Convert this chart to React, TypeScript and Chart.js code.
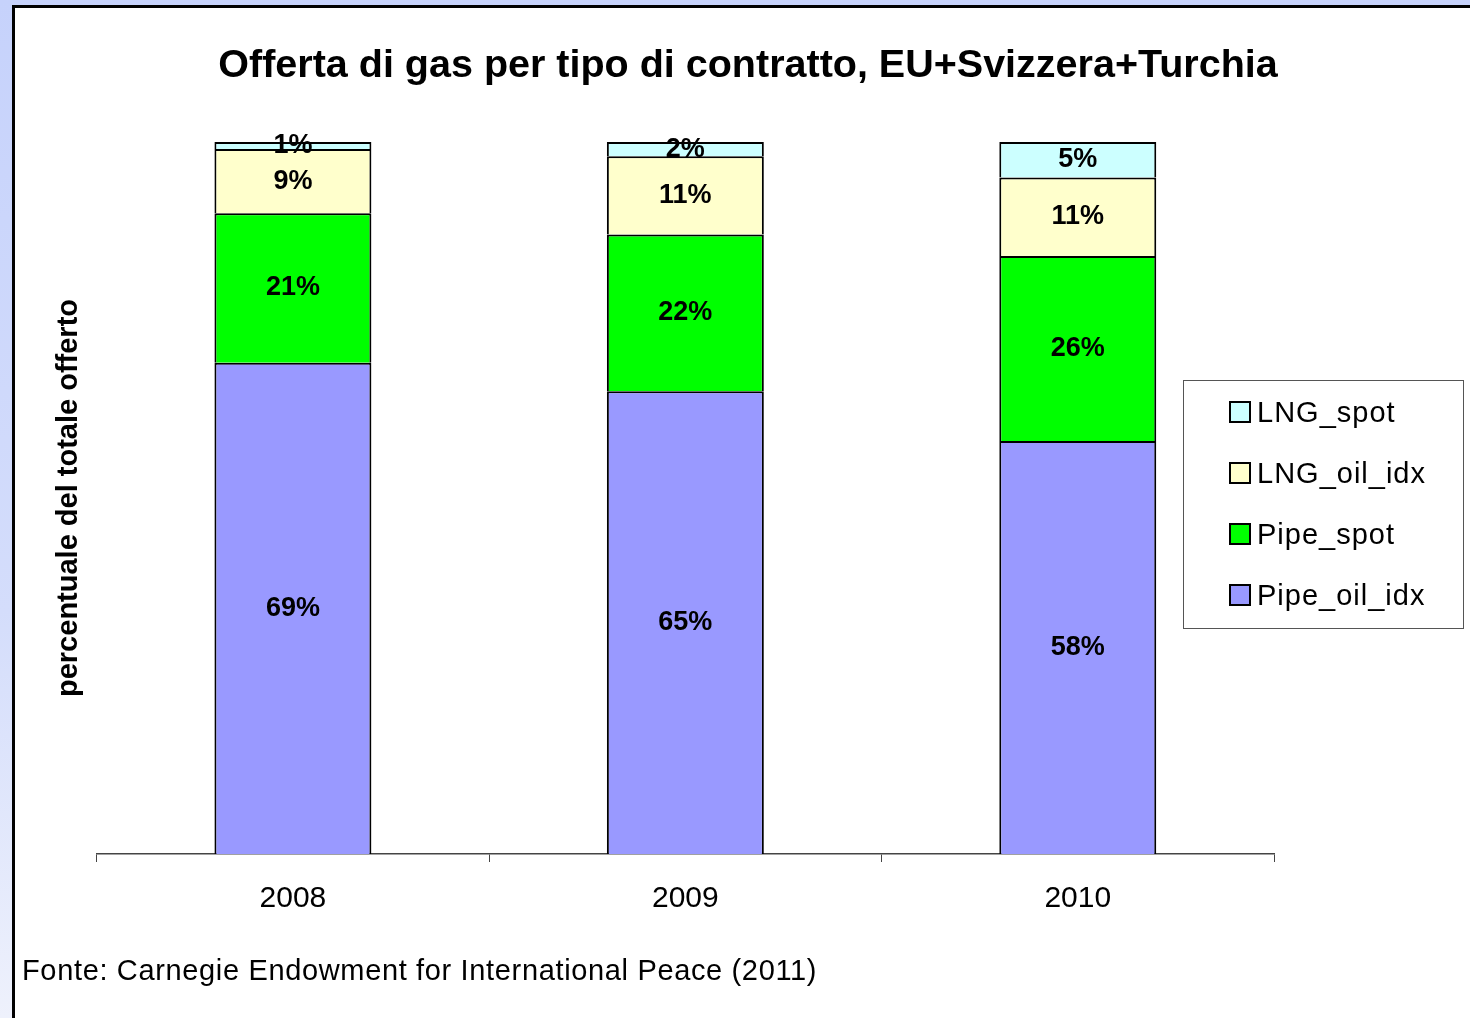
import React, { useEffect, useRef } from "react";
import { Chart, registerables } from "chart.js";

Chart.register(...registerables);

const categories = ["2008", "2009", "2010"];
const seriesNames = ["Pipe_oil_idx", "Pipe_spot", "LNG_oil_idx", "LNG_spot"];
const pipeOilIdx = [69, 65, 58];
const pipeSpot = [21, 22, 26];
const lngOilIdx = [9, 11, 11];
const lngSpot = [1, 2, 5];
const seriesColors = ["#9999ff", "#00ff00", "#ffffcc", "#ccffff"];

const titleText = "Offerta di gas per tipo di contratto, EU+Svizzera+Turchia";
const yTitleText = "percentuale del totale offerto";
const footerText = "Fonte: Carnegie Endowment for International Peace (2011)";

const FONT = "'Liberation Sans', Arial, Helvetica, sans-serif";

const dataLabelPlugin = {
  id: "segLabels",
  afterDatasetsDraw(chart: any) {
    const ctx = chart.ctx;
    ctx.save();
    ctx.font = `bold 27px ${FONT}`;
    ctx.fillStyle = "#000";
    ctx.textAlign = "center";
    ctx.textBaseline = "middle";
    chart.data.datasets.forEach((ds: any, di: number) => {
      const meta = chart.getDatasetMeta(di);
      meta.data.forEach((bar: any, i: number) => {
        const v = ds.data[i];
        const y = (bar.y + bar.base) / 2;
        ctx.fillText(`${v}%`, bar.x, y);
      });
    });
    ctx.restore();
  },
};

const boxLegendPlugin = {
  id: "boxLegend",
  afterDraw(chart: any) {
    const ctx = chart.ctx;
    const left = 1183;
    const top = 380;
    const w = 280;
    const h = 248;
    ctx.save();
    ctx.fillStyle = "#fff";
    ctx.fillRect(left, top, w, h);
    ctx.strokeStyle = "#555";
    ctx.lineWidth = 1;
    ctx.strokeRect(left + 0.5, top + 0.5, w, h);
    const items = chart.data.datasets.map((d: any) => d).reverse();
    ctx.font = `29px ${FONT}`;
    try { (ctx as any).letterSpacing = "1px"; } catch (e) {}
    ctx.textAlign = "left";
    ctx.textBaseline = "alphabetic";
    items.forEach((ds: any, i: number) => {
      const cy = top + 32 + i * 61;
      ctx.fillStyle = ds.backgroundColor;
      ctx.fillRect(left + 47, cy - 10, 20, 20);
      ctx.strokeStyle = "#000";
      ctx.lineWidth = 2;
      ctx.strokeRect(left + 47, cy - 10, 20, 20);
      ctx.fillStyle = "#000";
      ctx.fillText(ds.label, left + 74, cy + 10);
    });
    ctx.restore();
  },
};

export default function App() {
  const ref = useRef<HTMLCanvasElement>(null);
  useEffect(() => {
    if (!ref.current) return;
    const values = [pipeOilIdx, pipeSpot, lngOilIdx, lngSpot];
    const chart = new Chart(ref.current, {
      type: "bar",
      data: {
        labels: categories,
        datasets: seriesNames.map((name, i) => ({
          label: name,
          data: values[i],
          backgroundColor: seriesColors[i],
          borderColor: "#000",
          borderWidth: 2,
          categoryPercentage: 1,
          barPercentage: 0.4,
        })),
      },
      options: {
        responsive: false,
        animation: false,
        events: [],
        layout: { padding: { left: 47.9, right: 196, top: 142, bottom: 82 } },
        plugins: {
          legend: { display: false },
          tooltip: { enabled: false },
          title: { display: false },
        },
        scales: {
          x: {
            stacked: true,
            grid: {
              display: true,
              drawOnChartArea: false,
              drawTicks: true,
              tickLength: 8,
              color: "#444",
              lineWidth: 1,
            },
            border: { display: true, color: "#444", width: 1.5 },
            ticks: {
              color: "#000",
              font: { family: FONT, size: 30 },
              padding: 19,
            },
          },
          y: {
            stacked: true,
            min: 0,
            max: 100,
            grid: { display: false, drawTicks: false },
            border: { display: false },
            ticks: { display: false },
            title: {
              display: true,
              text: yTitleText,
              color: "#000",
              font: { family: FONT, size: 29, weight: "bold" },
              padding: { top: 4, bottom: 10 },
            },
          },
        },
      },
      plugins: [dataLabelPlugin, boxLegendPlugin],
    });
    return () => chart.destroy();
  }, []);

  return (
    <div
      style={{
        position: "fixed",
        left: 0,
        top: 0,
        width: 1470,
        height: 1018,
        background: "linear-gradient(180deg, #c6d2fb 0%, #d4ddfb 60%, #eef1fc 100%)",
        overflow: "hidden",
      }}
    >
      <div
        style={{
          position: "absolute",
          left: 12,
          top: 5,
          right: 0,
          bottom: 0,
          background: "#fff",
          borderLeft: "3px solid #000",
          borderTop: "3px solid #000",
        }}
      />
      <canvas
        ref={ref}
        width={1470}
        height={1018}
        style={{ position: "absolute", left: 0, top: 0, width: 1470, height: 1018 }}
      />
      <div
        style={{
          position: "absolute",
          left: 0,
          top: 44,
          width: 1496,
          textAlign: "center",
          font: `bold 39.5px ${FONT}`,
          lineHeight: "39px",
          color: "#000",
          whiteSpace: "nowrap",
        }}
      >
        {titleText}
      </div>
      <div
        style={{
          position: "absolute",
          left: 22,
          top: 956,
          font: `29px ${FONT}`,
          lineHeight: "29px",
          letterSpacing: "0.65px",
          color: "#000",
          whiteSpace: "nowrap",
        }}
      >
        {footerText}
      </div>
    </div>
  );
}
